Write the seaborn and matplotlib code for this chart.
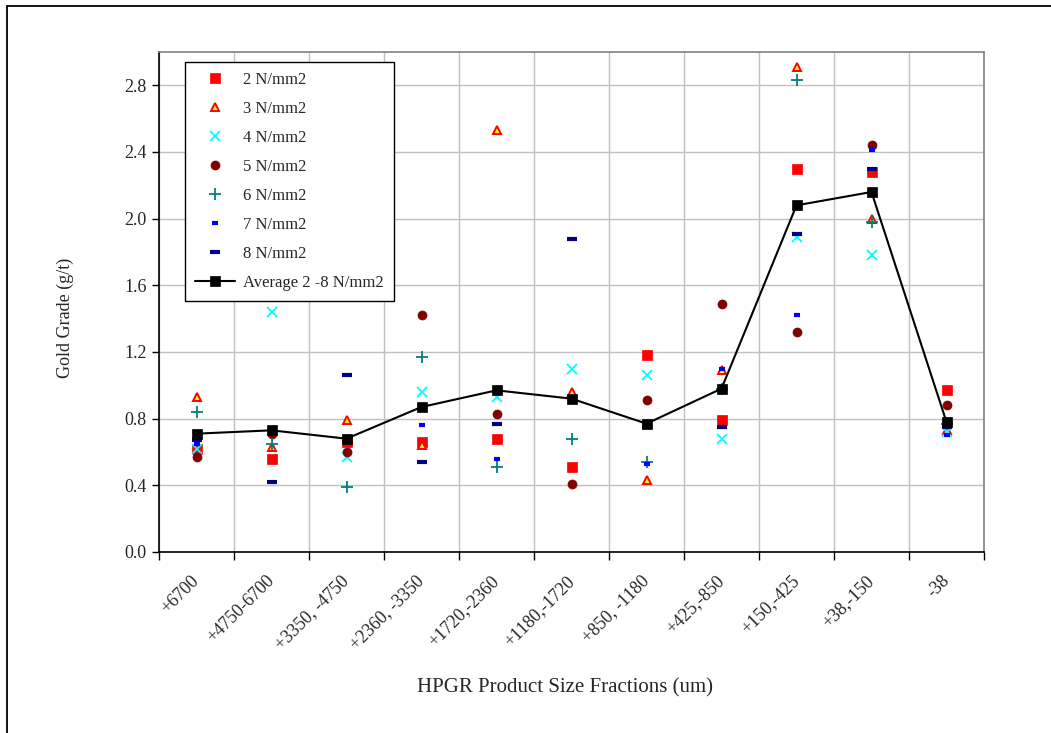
import numpy as np
import pandas as pd
import matplotlib
matplotlib.use("Agg")
import matplotlib.pyplot as plt
import matplotlib.patches as patches
import matplotlib.transforms as mtransforms
from matplotlib.ticker import FixedLocator
import seaborn as sns

# size fractions (um)
fractions = ["+6700", "+4750-6700", "+3350, -4750", "+2360, -3350", "+1720,-2360",
             "+1180,-1720", "+850, -1180", "+425,-850", "+150,-425", "+38,-150", "-38"]

# gold grade (g/t) per pressure
grade_2 = [0.62, 0.56, 0.66, 0.66, 0.68, 0.51, 1.18, 0.79, 2.30, 2.28, 0.97]
grade_3 = [0.93, 0.63, 0.79, 0.64, 2.53, 0.96, 0.43, 1.09, 2.91, 2.00, 0.73]
grade_4 = [0.62, 1.44, 0.57, 0.96, 0.93, 1.10, 1.06, 0.68, 1.89, 1.78, 0.72]
grade_5 = [0.57, 0.71, 0.60, 1.42, 0.83, 0.41, 0.91, 1.49, 1.32, 2.44, 0.88]
grade_6 = [0.84, 0.65, 0.39, 1.17, 0.51, 0.68, 0.54, 0.98, 2.83, 1.98, 0.77]
grade_7 = [0.65, 0.73, 0.69, 0.76, 0.56, 0.92, 0.53, 1.10, 1.42, 2.41, 0.70]
grade_8 = [0.67, 0.42, 1.06, 0.54, 0.77, 1.88, 0.75, 0.75, 1.91, 2.30, 0.75]
grade_avg = [0.71, 0.73, 0.68, 0.87, 0.97, 0.92, 0.77, 0.98, 2.08, 2.16, 0.78]

series_names = ["2 N/mm2", "3 N/mm2", "4 N/mm2", "5 N/mm2", "6 N/mm2",
                "7 N/mm2", "8 N/mm2", "Average 2 -8 N/mm2"]
series_values = [grade_2, grade_3, grade_4, grade_5, grade_6, grade_7, grade_8, grade_avg]

frames = []
for name, vals in zip(series_names, series_values):
    frames.append(pd.DataFrame({"Fraction": fractions, "Grade": vals, "Series": name}))
df = pd.concat(frames, ignore_index=True)

# marker styles (Excel-like)
styles = {
    "2 N/mm2": dict(marker="s", color="#ff0000", markerfacecolor="#ff0000", markeredgecolor="#ff0000",
                    markersize=6.5, markeredgewidth=0.5),
    "3 N/mm2": dict(marker="^", color="#ff0000", markerfacecolor="#ffff00", markeredgecolor="#ff0000",
                    markersize=6, markeredgewidth=1.4),
    "4 N/mm2": dict(marker="x", color="#00ffff", markerfacecolor="#00ffff", markeredgecolor="#00ffff",
                    markersize=7, markeredgewidth=1.3),
    "5 N/mm2": dict(marker="o", color="#800000", markerfacecolor="#800000", markeredgecolor="#800000",
                    markersize=6.5, markeredgewidth=0.5),
    "6 N/mm2": dict(marker="+", color="#008080", markerfacecolor="#008080", markeredgecolor="#008080",
                    markersize=8, markeredgewidth=1.3),
    "7 N/mm2": dict(marker="_", color="#0000ff", markerfacecolor="#0000ff", markeredgecolor="#0000ff",
                    markersize=4.5, markeredgewidth=3),
    "8 N/mm2": dict(marker="_", color="#000080", markerfacecolor="#000080", markeredgecolor="#000080",
                    markersize=7.5, markeredgewidth=3),
}

sns.set_theme(style="white")
plt.rcParams["font.family"] = ["Liberation Serif", "DejaVu Serif"]

fig = plt.figure(figsize=(10.51, 7.33), dpi=100)
ax = fig.add_axes([159 / 1051, 1 - 552 / 733, 825 / 1051, 500 / 733])

for name in series_names[:-1]:
    sub = df[df["Series"] == name]
    sns.lineplot(data=sub, x="Fraction", y="Grade", ax=ax, linestyle="none",
                 sort=False, label=name, **styles[name])

sub = df[df["Series"] == series_names[-1]]
sns.lineplot(data=sub, x="Fraction", y="Grade", ax=ax, sort=False, color="black",
             linewidth=1.5, marker="s", markersize=7, markerfacecolor="black",
             markeredgecolor="black", markeredgewidth=0.5, label=series_names[-1])

ax.set_xlim(-0.5, len(fractions) - 0.5)
ax.set_ylim(0, 3.0)
ax.set_yticks(np.arange(0, 2.81, 0.4))
ax.set_yticklabels([f"{v:.1f}" for v in np.arange(0, 2.81, 0.4)], fontsize=13)

ax.set_xticks(range(len(fractions)))
ax.set_xticklabels(fractions, rotation=45, ha="right", va="center",
                   rotation_mode="anchor", fontsize=13)
shift = mtransforms.ScaledTranslation(-7 / 100, 0, fig.dpi_scale_trans)
for lab in ax.get_xticklabels():
    lab.set_transform(lab.get_transform() + shift)
ax.xaxis.set_minor_locator(FixedLocator(np.arange(-0.5, len(fractions), 1.0)))
ax.tick_params(axis="x", which="major", length=0, pad=19)
ax.tick_params(axis="x", which="minor", length=6, width=1, color="black", direction="out", bottom=True)
ax.tick_params(axis="y", which="major", length=5, width=1, color="black", direction="out", left=True, pad=4)

ax.grid(False)
ax.yaxis.grid(True, color="#c0c0c0", linewidth=1)
ax.xaxis.grid(True, which="minor", color="#c0c0c0", linewidth=1)
ax.set_axisbelow(True)

for side in ["left", "bottom"]:
    ax.spines[side].set_color("black")
    ax.spines[side].set_linewidth(1.2)
for side in ["top", "right"]:
    ax.spines[side].set_color("#808080")
    ax.spines[side].set_linewidth(1.2)

ax.set_xlabel("HPGR Product Size Fractions (um)", fontsize=15)
ax.xaxis.set_label_coords(0.492, -0.252)
ax.set_ylabel("Gold Grade (g/t)", fontsize=13)
ax.yaxis.set_label_coords(-0.103, 0.468)

leg = ax.legend(loc="upper left", bbox_to_anchor=(0.0315, 0.98), borderaxespad=0,
                fontsize=12, frameon=True, fancybox=False, edgecolor="black",
                framealpha=1, labelspacing=0.78, handlelength=2.4, handletextpad=0.5,
                borderpad=0.6)
leg.get_frame().set_linewidth(1)

# outer chart border
fig.patches.append(patches.Rectangle((7 / 1051, -0.1), 2, 1.1 - 6.5 / 733, transform=fig.transFigure,
                                     fill=False, edgecolor="black", linewidth=1.3))

fig.savefig("out.png", dpi=100)
